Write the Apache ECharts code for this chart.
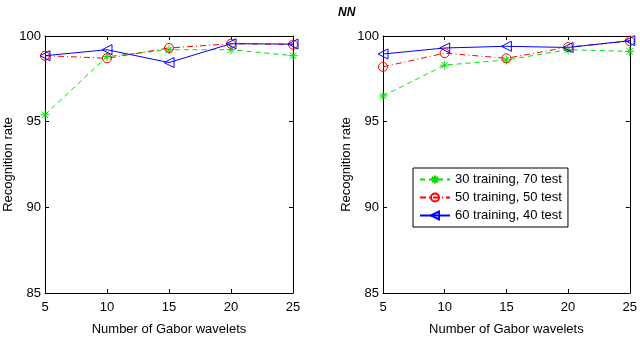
<!DOCTYPE html>
<html>
<head>
<meta charset="utf-8">
<script src="https://cdn.jsdelivr.net/npm/echarts@6/dist/echarts.min.js"></script>
<style>
  html, body { margin: 0; padding: 0; background: #fff; }
  #chart { width: 640px; height: 364px; }
</style>
</head>
<body>
<div id="chart"></div>
<script>
// x values (number of Gabor wavelets)
var wavelets = [5, 10, 15, 20, 25];
var seriesNames = ['30 training, 70 test', '50 training, 50 test', '60 training, 40 test'];

// left panel
var leftGreen = [95.4, 98.8, 99.2, 99.2, 98.85];
var leftRed = [98.85, 98.7, 99.3, 99.55, 99.5];
var leftBlue = [98.85, 99.2, 98.45, 99.55, 99.53];

// right panel
var rightGreen = [96.5, 98.3, 98.6, 99.2, 99.1];
var rightRed = [98.2, 99.0, 98.7, 99.35, 99.7];
var rightBlue = [98.95, 99.3, 99.4, 99.33, 99.73];

var yTicks = [85, 90, 95, 100];

var font = '"Liberation Sans Narrow", "Liberation Sans", Arial, sans-serif';

var starPath = 'path://M0,-5L0,5M-5,0L5,0M-3.6,-3.6L3.6,3.6M-3.6,3.6L3.6,-3.6';
var triPath = 'path://M-5,0L5,-5.5L5,5.5Z';

function pairs(vals) {
    return wavelets.map(function (x, i) { return [x, vals[i]]; });
}

var styles = [
    { color: '#00e000', type: [5, 4], symbol: starPath, size: 9 },
    { color: '#ff0000', type: [6, 3, 1, 3], symbol: 'circle', size: 9 },
    { color: '#0000ff', type: 'solid', symbol: triPath, size: 10 }
];

function makeSeries(name, vals, idx, st) {
    return {
        name: name,
        type: 'line',
        xAxisIndex: idx,
        yAxisIndex: idx,
        data: pairs(vals),
        symbol: st.symbol,
        symbolSize: st.size,
        showSymbol: true,
        lineStyle: { color: st.color, width: 1, type: st.type },
        itemStyle: { color: 'rgba(255,255,255,0)', borderColor: st.color, borderWidth: 1 },
        emphasis: { disabled: true },
        animation: false
    };
}

var grids = [
    { left: 45, right: 347, top: 36, bottom: 71 },
    { left: 383, right: 9, top: 36, bottom: 71 }
];

var xAxes = [];
var yAxes = [];
[0, 1].forEach(function (g) {
    xAxes.push({
        type: 'value', gridIndex: g, min: 5, max: 25, interval: 5,
        name: 'Number of Gabor wavelets', nameLocation: 'middle', nameGap: 30,
        nameTextStyle: { color: '#000', fontSize: 13, fontFamily: font },
        axisLine: { lineStyle: { color: '#000' } },
        axisTick: { inside: true, length: 4, lineStyle: { color: '#000' } },
        axisLabel: { color: '#000', fontSize: 13, fontFamily: font, margin: 8 },
        splitLine: { show: false }
    });
    xAxes.push({
        type: 'value', gridIndex: g, position: 'top', min: 5, max: 25, interval: 5,
        axisLine: { lineStyle: { color: '#000' } },
        axisTick: { inside: true, length: 4, lineStyle: { color: '#000' } },
        axisLabel: { show: false },
        splitLine: { show: false }
    });
    yAxes.push({
        type: 'value', gridIndex: g, min: yTicks[0], max: yTicks[yTicks.length - 1], interval: 5,
        name: 'Recognition rate', nameLocation: 'middle', nameGap: 24, nameRotate: 90,
        nameTextStyle: { color: '#000', fontSize: 13, fontFamily: font },
        axisLine: { lineStyle: { color: '#000' } },
        axisTick: { inside: true, length: 4, lineStyle: { color: '#000' } },
        axisLabel: { color: '#000', fontSize: 13, fontFamily: font, margin: 4 },
        splitLine: { show: false }
    });
    yAxes.push({
        type: 'value', gridIndex: g, position: 'right', min: 85, max: 100, interval: 5,
        axisLine: { lineStyle: { color: '#000' } },
        axisTick: { inside: true, length: 4, lineStyle: { color: '#000' } },
        axisLabel: { show: false },
        splitLine: { show: false }
    });
});

var series = [
    makeSeries(seriesNames[0], leftGreen, 0, styles[0]),
    makeSeries(seriesNames[1], leftRed, 0, styles[1]),
    makeSeries(seriesNames[2], leftBlue, 0, styles[2]),
    makeSeries(seriesNames[0], rightGreen, 2, styles[0]),
    makeSeries(seriesNames[1], rightRed, 2, styles[1]),
    makeSeries(seriesNames[2], rightBlue, 2, styles[2])
];

var chart = echarts.init(document.getElementById('chart'), null, { renderer: 'canvas' });
chart.setOption({
    backgroundColor: '#fff',
    animation: false,
    title: {
        text: 'NN', left: 333, top: 2,
        textStyle: { fontSize: 12, fontStyle: 'italic', fontWeight: 'bold', color: '#000', fontFamily: 'Liberation Sans, Arial, sans-serif' }
    },
    legend: {
        data: seriesNames,
        orient: 'vertical',
        left: 413, top: 168,
        itemWidth: 30, itemHeight: 10, itemGap: 5,
        padding: [5, 6, 5, 6],
        backgroundColor: '#fff',
        borderColor: '#000', borderWidth: 1,
        textStyle: { color: '#000', fontSize: 13, fontFamily: font }
    },
    grid: grids,
    xAxis: xAxes,
    yAxis: yAxes,
    series: series
});
</script>
</body>
</html>
